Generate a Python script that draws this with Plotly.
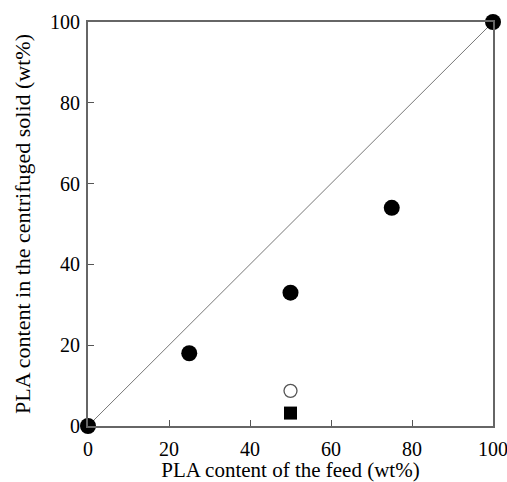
import plotly.graph_objects as go

feed_pla = [0, 25, 50, 75, 100]
solid_pla = [0, 18, 33, 54, 100]
open_x = [50]
open_y = [8.7]
square_x = [50]
square_y = [3.2]
diag = [0, 100]
ticks = [0, 20, 40, 60, 80, 100]

fig = go.Figure()
fig.add_trace(go.Scatter(x=diag, y=diag, mode="lines",
                         line=dict(color="#777777", width=1), showlegend=False, cliponaxis=False))
fig.add_trace(go.Scatter(x=feed_pla, y=solid_pla, mode="markers",
                         marker=dict(symbol="circle", size=16, color="black"),
                         showlegend=False, cliponaxis=False))
fig.add_trace(go.Scatter(x=open_x, y=open_y, mode="markers",
                         marker=dict(symbol="circle-open", size=13, color="#555555", line=dict(width=1.3)),
                         showlegend=False, cliponaxis=False))
fig.add_trace(go.Scatter(x=square_x, y=square_y, mode="markers",
                         marker=dict(symbol="square", size=13, color="black"),
                         showlegend=False, cliponaxis=False))

axis_common = dict(range=[0, 100], tickvals=ticks, ticks="inside", ticklen=6, tickcolor="#555555",
                   showgrid=False, zeroline=False, showline=True, linecolor="#666666", linewidth=2,
                   mirror=True, automargin=False, ticklabeloverflow="allow",
                   tickfont=dict(family="Liberation Serif", size=20, color="black"))
fig.update_xaxes(**axis_common, ticklabelstandoff=4,
                 title=dict(text="PLA content of the feed (wt%)", standoff=7,
                            font=dict(family="Liberation Serif", size=21, color="black")))
fig.update_yaxes(**axis_common, ticklabelstandoff=2,
                 title=dict(text="PLA content in the centrifuged solid (wt%)", standoff=13,
                            font=dict(family="Liberation Serif", size=22, color="black")))
fig.update_layout(width=507, height=482, margin=dict(l=88, r=14, t=22, b=56),
                  plot_bgcolor="white", paper_bgcolor="white")
fig.write_html("out.html", config={"displayModeBar": False},
               post_script="document.body.style.margin='0';document.body.style.overflow='hidden';")
